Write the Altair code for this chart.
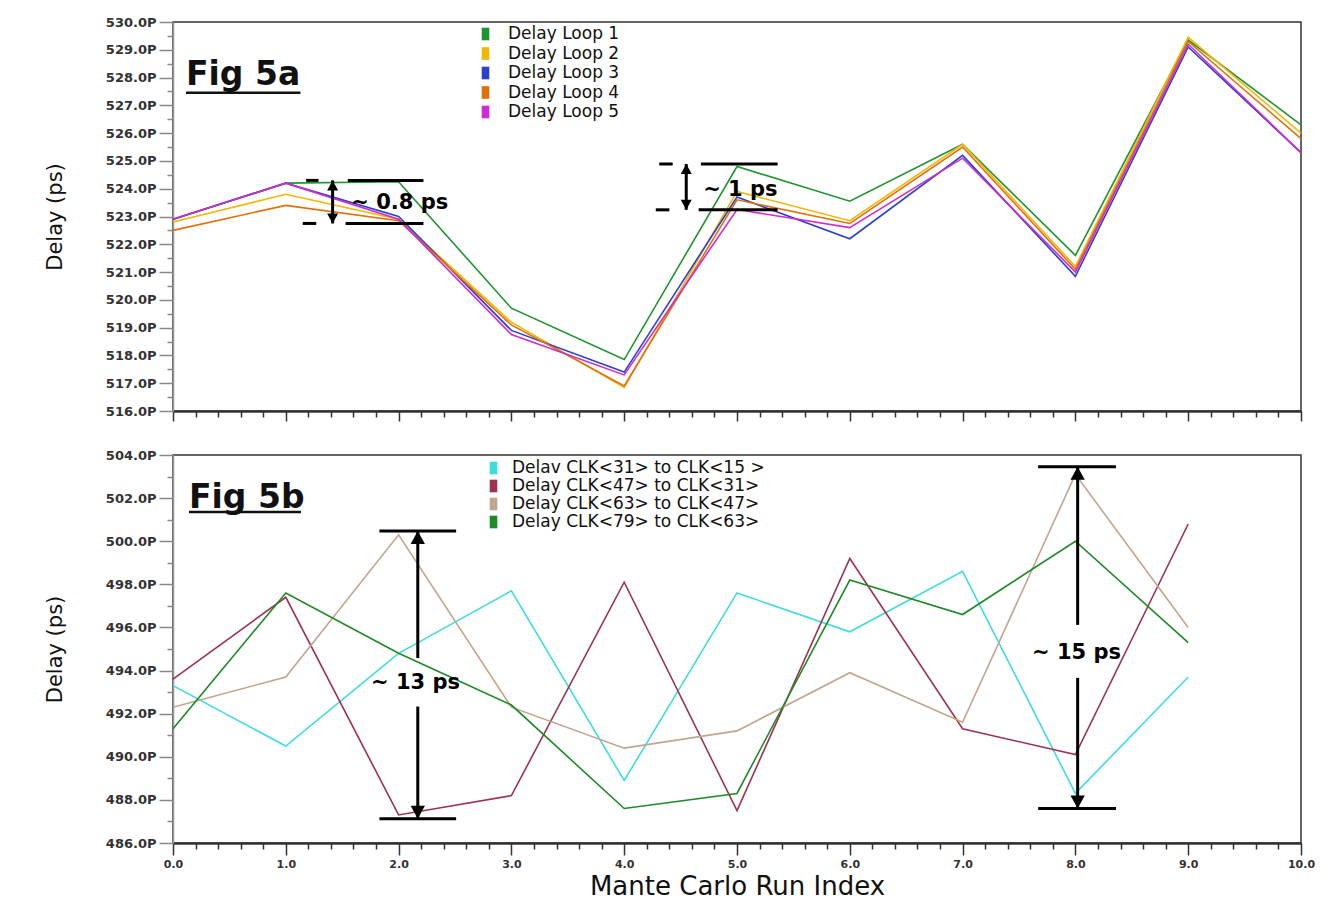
import altair as alt
import pandas as pd

# ---------------- data ----------------
runs_a = [0, 1, 2, 3, 4, 5, 6, 7, 8, 9, 10]
loop_names = ["Delay Loop 1", "Delay Loop 2", "Delay Loop 3", "Delay Loop 4", "Delay Loop 5"]
loop1 = [522.9, 524.2, 524.25, 519.7, 517.85, 524.8, 523.55, 525.6, 521.6, 529.35, 526.3]
loop2 = [522.8, 523.8, 522.9, 519.2, 516.85, 523.9, 522.85, 525.6, 521.2, 529.45, 526.0]
loop3 = [522.9, 524.2, 523.0, 518.9, 517.4, 523.7, 522.2, 525.2, 520.85, 529.1, 525.3]
loop4 = [522.5, 523.4, 522.85, 519.1, 516.9, 523.6, 522.75, 525.5, 521.1, 529.3, 525.8]
loop5 = [522.9, 524.2, 522.9, 518.75, 517.3, 523.25, 522.6, 525.1, 521.0, 529.2, 525.3]
loop_colors = ["#1f9430", "#f2b705", "#2a40d0", "#e0700a", "#cf2bcf"]

runs_b = [0, 1, 2, 3, 4, 5, 6, 7, 8, 9]
clk_names = ["Delav CLK<31> to CLK<15 >", "Delay CLK<47> to CLK<31>",
             "Delay CLK<63> to CLK<47>", "Delay CLK<79> to CLK<63>"]
clk_31_15 = [493.3, 490.5, 494.8, 497.7, 488.9, 497.6, 495.8, 498.6, 488.3, 493.7]
clk_47_31 = [493.6, 497.4, 487.3, 488.2, 498.1, 487.5, 499.2, 491.3, 490.1, 500.8]
clk_63_47 = [492.3, 493.7, 500.3, 492.3, 490.4, 491.2, 493.9, 491.6, 503.1, 496.0]
clk_79_63 = [491.3, 497.6, 494.8, 492.4, 487.6, 488.3, 498.2, 496.6, 500.0, 495.3]
clk_colors = ["#3fdcdc", "#9c3352", "#c4a58c", "#1e8a28"]

x_major = [0, 1, 2, 3, 4, 5, 6, 7, 8, 9, 10]
x_minor = [i / 5 for i in range(51) if i % 5 != 0]
ya_major = list(range(516, 531))
ya_minor = [516.5 + i for i in range(14)]
yb_major = list(range(486, 505, 2))
yb_minor = [487 + 2 * i for i in range(9)]

# annotations, panel a (data coordinates)
a_hx1 = [1.18, 1.55, 1.15, 1.53, 4.31, 4.68, 4.28, 4.66]
a_hx2 = [1.29, 2.22, 1.27, 2.22, 4.43, 5.36, 4.40, 5.36]
a_hy = [524.3, 524.3, 522.75, 522.75, 524.89, 524.89, 523.24, 523.24]
a_vx = [1.415, 4.55]
a_vy1 = [524.3, 524.89]
a_vy2 = [522.75, 523.24]
a_up_x, a_up_y = [1.415, 4.55], [524.3, 524.89]
a_dn_x, a_dn_y = [1.415, 4.55], [522.75, 523.24]
a_txt = ["~ 0.8 ps", "~ 1 ps"]
a_txt_x = [1.58, 4.70]
a_txt_y = [523.49, 523.96]
a_fig = ["Fig 5a"]
a_fig_x, a_fig_y = [0.115], [527.73]
a_ul_x1, a_ul_x2, a_ul_y = [0.115], [1.13], [527.45]

# annotations, panel b
b_hx1 = [1.83, 1.83, 7.67, 7.67]
b_hx2 = [2.51, 2.51, 8.36, 8.36]
b_hy = [500.47, 487.12, 503.46, 487.6]
b_vx = [2.17, 2.17, 8.02, 8.02]
b_vy1 = [500.47, 492.33, 503.46, 493.66]
b_vy2 = [494.58, 487.12, 496.12, 487.6]
b_up_x, b_up_y = [2.17, 8.02], [500.47, 503.46]
b_dn_x, b_dn_y = [2.17, 8.02], [487.12, 487.6]
b_txt = ["~ 13 ps", "~ 15 ps"]
b_txt_x = [2.15, 8.01]
b_txt_y = [493.42, 494.82]
b_fig = ["Fig 5b"]
b_fig_x, b_fig_y = [0.142], [501.54]
b_ul_x1, b_ul_x2, b_ul_y = [0.142], [1.135], [501.36]

FONT = "DejaVu Sans"
W = 1128
RECT = "M-0.6,-1H0.6V1H-0.6Z"


def long_df(runs, names, series):
    rows = []
    for n, vals in zip(names, series):
        for r, v in zip(runs, vals):
            rows.append({"run": r, "delay": v, "series": n})
    return pd.DataFrame(rows)


def panel(df, names, colors, ydom, ymaj, ymin, hx1, hx2, hy, vx, vy1, vy2,
          upx, upy, dnx, dny, txt, tx, ty, talign, fig, fx, fy, ux1, ux2, uy,
          leg, show_labels, height, head):
    xs = alt.Scale(domain=[0, 10], nice=False, zero=False)
    ys = alt.Scale(domain=ydom, nice=False, zero=False)
    if show_labels:
        xax = alt.Axis(values=x_major, format=".1f", labelFlush=False, labelOverlap=False,
                       labelFont=FONT, labelFontSize=11, labelFontWeight="bold", labelColor="#333",
                       labelPadding=3, tickSize=12, tickColor="#333", tickWidth=1.5,
                       domainColor="#333", domainWidth=2.5, grid=False,
                       title="Mante Carlo Run Index", titleFont=FONT, titleFontSize=26,
                       titleFontWeight="normal", titleColor="#111", titlePadding=4)
    else:
        xax = alt.Axis(values=x_major, labels=False, tickSize=10, tickColor="#333", tickWidth=1.5,
                       domainColor="#333", domainWidth=2.5, grid=False, title=None)
    yax = alt.Axis(values=ymaj, labelExpr="format(datum.value, '.1f') + 'P'", labelOverlap=False,
                   labelFont=FONT, labelFontSize=13, labelFontWeight="bold", labelColor="#333",
                   labelPadding=3, tickSize=14, tickColor="#888", tickWidth=1.5,
                   domainColor="#999", domainWidth=1.5, grid=False,
                   title="Delay (ps)", titleFont=FONT, titleFontSize=21, titleFontWeight="normal",
                   titleColor="#111", titlePadding=40)
    # zero-size filled points: they only carry the legend (filled rectangles as symbols)
    legend_layer = alt.Chart(df).mark_point(filled=True, shape=RECT, size=0, opacity=1).encode(
        x=alt.X("run:Q", scale=xs, axis=None),
        y=alt.Y("delay:Q", scale=ys, axis=None),
        fill=alt.Fill("series:N", scale=alt.Scale(domain=names, range=colors), sort=names,
                      legend=alt.Legend(**leg)),
    )
    lines = alt.Chart(df).mark_line(strokeWidth=1.6).encode(
        x=alt.X("run:Q", scale=xs, axis=xax),
        y=alt.Y("delay:Q", scale=ys, axis=yax),
        stroke=alt.Stroke("series:N", scale=alt.Scale(domain=names, range=colors), sort=names, legend=None),
    )
    minor = alt.Chart(pd.DataFrame({"run": [0], "delay": [ydom[0]]})).mark_point(opacity=0).encode(
        x=alt.X("run:Q", scale=xs, title=None,
                axis=alt.Axis(values=x_minor, labels=False, domain=False, tickSize=6,
                              tickColor="#333", tickWidth=1.5, grid=False, orient="bottom")),
        y=alt.Y("delay:Q", scale=ys, title=None,
                axis=alt.Axis(values=ymin, labels=False, domain=False, tickSize=6,
                              tickColor="#888", tickWidth=1.5, grid=False, orient="left")),
    )
    hdf = pd.DataFrame({"x": hx1, "x2": hx2, "y": hy})
    hl = alt.Chart(hdf).mark_rule(color="black", strokeWidth=3).encode(
        x=alt.X("x:Q", scale=xs, axis=None), x2="x2:Q", y=alt.Y("y:Q", scale=ys, axis=None))
    vdf = pd.DataFrame({"x": vx, "y": vy1, "y2": vy2})
    vl = alt.Chart(vdf).mark_rule(color="black", strokeWidth=3).encode(
        x=alt.X("x:Q", scale=xs, axis=None), y=alt.Y("y:Q", scale=ys, axis=None), y2="y2:Q")
    up = alt.Chart(pd.DataFrame({"x": upx, "y": upy})).mark_point(
        shape="M0,0L-1.1,2L1.1,2Z", filled=True, color="black", opacity=1, size=head).encode(
        x=alt.X("x:Q", scale=xs, axis=None), y=alt.Y("y:Q", scale=ys, axis=None))
    dn = alt.Chart(pd.DataFrame({"x": dnx, "y": dny})).mark_point(
        shape="M0,0L-1.1,-2L1.1,-2Z", filled=True, color="black", opacity=1, size=head).encode(
        x=alt.X("x:Q", scale=xs, axis=None), y=alt.Y("y:Q", scale=ys, axis=None))
    tl = alt.Chart(pd.DataFrame({"x": tx, "y": ty, "t": txt})).mark_text(
        font=FONT, fontWeight="bold", fontSize=21, color="black", align=talign, baseline="middle").encode(
        x=alt.X("x:Q", scale=xs, axis=None), y=alt.Y("y:Q", scale=ys, axis=None), text="t:N")
    fl = alt.Chart(pd.DataFrame({"x": fx, "y": fy, "t": fig})).mark_text(
        font=FONT, fontWeight="bold", fontSize=33, color="#111", align="left", baseline="alphabetic").encode(
        x=alt.X("x:Q", scale=xs, axis=None), y=alt.Y("y:Q", scale=ys, axis=None), text="t:N")
    ul = alt.Chart(pd.DataFrame({"x": ux1, "x2": ux2, "y": uy})).mark_rule(color="#111", strokeWidth=2.5).encode(
        x=alt.X("x:Q", scale=xs, axis=None), x2="x2:Q", y=alt.Y("y:Q", scale=ys, axis=None))
    return alt.layer(legend_layer, lines, minor, hl, vl, up, dn, tl, fl, ul).resolve_axis(
        x="independent", y="independent").properties(width=W, height=height)


leg_a = dict(title=None, orient="none", legendX=304, legendY=3.5, symbolType=RECT,
             symbolSize=160, symbolStrokeWidth=0, symbolOpacity=1, labelFont=FONT, labelFontSize=17,
             labelColor="#111", labelOffset=14, rowPadding=1.5, padding=0, labelLimit=400)
leg_b = dict(title=None, orient="none", legendX=312, legendY=4.5, symbolType=RECT,
             symbolSize=160, symbolStrokeWidth=0, symbolOpacity=1, labelFont=FONT, labelFontSize=17,
             labelColor="#111", labelOffset=10, rowPadding=0, padding=0, labelLimit=400)

top = panel(long_df(runs_a, loop_names, [loop1, loop2, loop3, loop4, loop5]), loop_names, loop_colors,
            [516, 530], ya_major, ya_minor, a_hx1, a_hx2, a_hy, a_vx, a_vy1, a_vy2,
            a_up_x, a_up_y, a_dn_x, a_dn_y, a_txt, a_txt_x, a_txt_y, "left",
            a_fig, a_fig_x, a_fig_y, a_ul_x1, a_ul_x2, a_ul_y, leg_a, False, 389, 100)
bot = panel(long_df(runs_b, clk_names, [clk_31_15, clk_47_31, clk_63_47, clk_79_63]), clk_names, clk_colors,
            [486, 504], yb_major, yb_minor, b_hx1, b_hx2, b_hy, b_vx, b_vy1, b_vy2,
            b_up_x, b_up_y, b_dn_x, b_dn_y, b_txt, b_txt_x, b_txt_y, "center",
            b_fig, b_fig_x, b_fig_y, b_ul_x1, b_ul_x2, b_ul_y, leg_b, True, 388, 169)

chart = alt.vconcat(top, bot, spacing=25).resolve_scale(
    stroke="independent", fill="independent").properties(
    padding={"left": 35, "top": 7, "right": 5, "bottom": 5},
    background="white",
).configure_view(stroke="#333", strokeWidth=1.5)

chart.save("out.html", embed_options={"renderer": "svg", "actions": False})
